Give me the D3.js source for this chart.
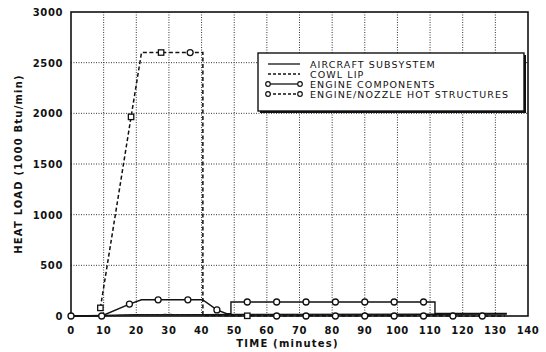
<!DOCTYPE html>
<html lang="en">
<head>
    <meta charset="UTF-8">
    <title>Heat Load vs Time</title>
    <script src="https://d3js.org/d3.v7.min.js"></script>
    <style>
        body {
            background-color: #ffffff;
            margin: 0;
            padding: 0;
        }
        svg text {
            font-family: 'DejaVu Sans', sans-serif;
            fill: #111;
        }
    </style>
</head>
<body>
    <div id="chart"></div>

    <script>
        // data: [time (min), heat load (1000 Btu/min)]
        const aircraftSubsystem = [[0, 0], [10, 5], [20, 12], [40, 12], [50, 15], [110, 18], [133.5, 20]];
        const cowlLip = [[10, 0], [20, 10], [30, 15], [40, 8], [50, 5], [70, 12], [90, 10], [110, 8]];
        const engineComponents = [[0, 0], [9.4, 0], [17.9, 118], [21.6, 160], [26.7, 160], [35.8, 160], [40.3, 160],
            [44.7, 60], [47.7, 22], [49, 22], [49, 138], [54, 138], [63, 138], [72, 138], [81, 138], [90, 138],
            [99, 138], [108, 138], [111.5, 138], [111.5, 25], [133.5, 25]];
        const engineMarkers = [[0, 0], [9.4, 0], [17.9, 118], [26.7, 160], [35.8, 160], [44.7, 60],
            [54, 138], [63, 138], [72, 138], [81, 138], [90, 138], [99, 138], [108, 138]];
        const hotStructures = [[9, 80], [18.4, 1965], [21.6, 2600], [27.6, 2600], [36.5, 2600], [40.4, 2600],
            [40.4, 5], [54, 2], [72, 2], [90, 2], [108, 2], [126, 0], [133, 0]];
        const hotSquares = [[9, 80], [18.4, 1965], [27.6, 2600], [54, 2]];
        const hotCircles = [[36.5, 2600], [63, 0], [72, 0], [81, 0], [90, 0], [99, 0], [108, 0], [117, 0], [126, 0]];

        const xTicks = [0, 10, 20, 30, 40, 50, 60, 70, 80, 90, 100, 110, 120, 130, 140];
        const yTicks = [0, 500, 1000, 1500, 2000, 2500, 3000];
        const legendLabels = ["AIRCRAFT SUBSYSTEM", "COWL LIP", "ENGINE COMPONENTS", "ENGINE/NOZZLE HOT STRUCTURES"];

        const width = 546, height = 352;
        const margin = {left: 71, right: 18, top: 12, bottom: 36};

        const svg = d3.select("#chart").append("svg")
            .attr("width", width)
            .attr("height", height);

        const x = d3.scaleLinear().domain([0, 140]).range([margin.left, width - margin.right]);
        const y = d3.scaleLinear().domain([0, 3000]).range([height - margin.bottom, margin.top]);

        // dotted grid
        svg.append("g").selectAll("line")
            .data(xTicks.slice(1, -1))
            .join("line")
            .attr("x1", d => x(d)).attr("x2", d => x(d))
            .attr("y1", y(3000)).attr("y2", y(0))
            .attr("stroke", "#333").attr("stroke-width", 1)
            .attr("stroke-dasharray", "1,1.5");

        svg.append("g").selectAll("line")
            .data(yTicks.slice(1, -1))
            .join("line")
            .attr("x1", x(0)).attr("x2", x(140))
            .attr("y1", d => y(d)).attr("y2", d => y(d))
            .attr("stroke", "#333").attr("stroke-width", 1)
            .attr("stroke-dasharray", "1,1.5");

        // frame
        svg.append("rect")
            .attr("x", x(0)).attr("y", y(3000))
            .attr("width", x(140) - x(0)).attr("height", y(0) - y(3000))
            .attr("fill", "none").attr("stroke", "#111").attr("stroke-width", 1.6);

        // tick labels
        svg.append("g").selectAll("text")
            .data(yTicks)
            .join("text")
            .attr("x", x(0) - 8).attr("y", d => y(d) + 4)
            .attr("text-anchor", "end")
            .attr("font-size", "10px").attr("font-weight", "bold")
            .attr("letter-spacing", "0.6px")
            .text(d => d);

        svg.append("g").selectAll("text")
            .data(xTicks)
            .join("text")
            .attr("x", d => x(d)).attr("y", y(0) + 18)
            .attr("text-anchor", "middle")
            .attr("font-size", "10px").attr("font-weight", "bold")
            .attr("letter-spacing", "0.6px")
            .text(d => d);

        svg.append("text")
            .attr("x", (x(0) + x(140)) / 2 - 12).attr("y", height - 5)
            .attr("text-anchor", "middle")
            .attr("font-size", "10px").attr("font-weight", "bold")
            .attr("letter-spacing", "1.2px")
            .text("TIME (minutes)");

        svg.append("text")
            .attr("transform", `translate(22,${(y(0) + y(3000)) / 2}) rotate(-90)`)
            .attr("text-anchor", "middle")
            .attr("font-size", "10px").attr("font-weight", "bold")
            .attr("letter-spacing", "1.2px")
            .text("HEAT LOAD (1000 Btu/min)");

        const line = d3.line().x(d => x(d[0])).y(d => y(d[1]));

        // series
        svg.append("path").datum(aircraftSubsystem)
            .attr("d", line).attr("fill", "none")
            .attr("stroke", "#111").attr("stroke-width", 1.6);

        svg.append("path").datum(cowlLip)
            .attr("d", line).attr("fill", "none")
            .attr("stroke", "#222").attr("stroke-width", 1.4)
            .attr("stroke-dasharray", "3,2");

        svg.append("path").datum(engineComponents)
            .attr("d", line).attr("fill", "none")
            .attr("stroke", "#111").attr("stroke-width", 1.4);

        svg.append("path").datum(hotStructures)
            .attr("d", line).attr("fill", "none")
            .attr("stroke", "#111").attr("stroke-width", 1.5)
            .attr("stroke-dasharray", "4,2.5");

        svg.append("g").selectAll("circle")
            .data(engineMarkers.concat(hotCircles))
            .join("circle")
            .attr("cx", d => x(d[0])).attr("cy", d => y(d[1]))
            .attr("r", 3)
            .attr("fill", "#fff").attr("stroke", "#111").attr("stroke-width", 1.3);

        svg.append("g").selectAll("rect")
            .data(hotSquares)
            .join("rect")
            .attr("x", d => x(d[0]) - 2.7).attr("y", d => y(d[1]) - 2.7)
            .attr("width", 5.4).attr("height", 5.4)
            .attr("fill", "#fff").attr("stroke", "#111").attr("stroke-width", 1.3);

        // legend
        const lg = svg.append("g").attr("transform", "translate(258,53)");
        lg.append("rect")
            .attr("x", 2).attr("y", 2).attr("width", 266).attr("height", 58)
            .attr("fill", "#111");
        lg.append("rect")
            .attr("x", 0).attr("y", 0).attr("width", 266).attr("height", 58)
            .attr("fill", "#fff").attr("stroke", "#111").attr("stroke-width", 1.4);

        const rows = lg.selectAll("g.row")
            .data(legendLabels)
            .join("g")
            .attr("class", "row")
            .attr("transform", (d, i) => `translate(0,${11 + i * 10})`);

        rows.append("line")
            .attr("x1", 10).attr("x2", 42).attr("y1", 0).attr("y2", 0)
            .attr("stroke", "#111").attr("stroke-width", 1.3)
            .attr("stroke-dasharray", (d, i) => (i === 1 || i === 3) ? "3,2" : null);

        rows.filter((d, i) => i >= 2).selectAll("circle")
            .data([10, 42])
            .join("circle")
            .attr("cx", d => d).attr("cy", 0).attr("r", 2.3)
            .attr("fill", "#fff").attr("stroke", "#111").attr("stroke-width", 1.2);

        rows.append("text")
            .attr("x", 52).attr("y", 3.8)
            .attr("font-size", "9.5px")
            .attr("letter-spacing", "1.1px")
            .text(d => d);
    </script>
</body>
</html>
